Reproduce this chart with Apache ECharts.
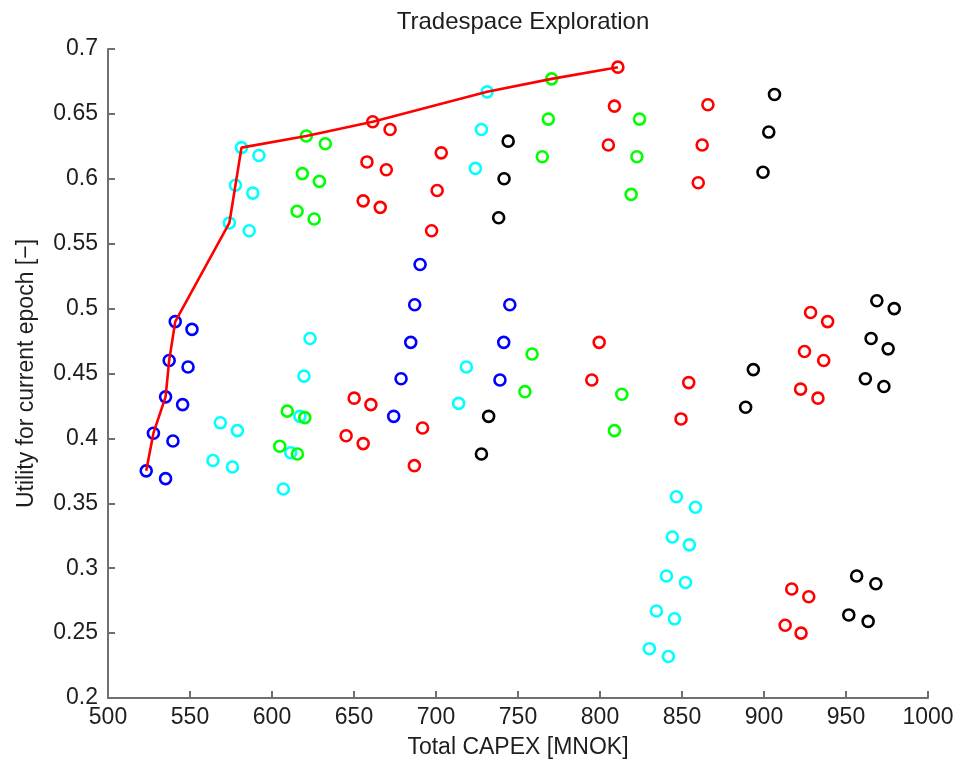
<!DOCTYPE html>
<html>
<head>
<meta charset="utf-8">
<title>Tradespace Exploration</title>
<script src="https://cdn.jsdelivr.net/npm/echarts@6/dist/echarts.min.js"></script>
<style>
  html, body { margin: 0; padding: 0; background: #ffffff; }
  #chart { width: 959px; height: 767px; }
</style>
</head>
<body>
<div id="chart"></div>
<script>
// Design alternatives: [Total CAPEX (MNOK), utility]
const blueDesigns = [
  [523.3, 0.375], [535.1, 0.369], [527.7, 0.404], [539.6, 0.398], [535.1, 0.432],
  [545.5, 0.426], [537.3, 0.460], [548.8, 0.455], [541.0, 0.490], [551.2, 0.484],
  [674.2, 0.417], [678.7, 0.446], [684.6, 0.474], [687.0, 0.503], [690.3, 0.534],
  [739.0, 0.445], [741.3, 0.474], [745.0, 0.503]
];
const cyanDesigns = [
  [564.0, 0.383], [575.9, 0.378], [568.5, 0.412], [578.9, 0.406], [606.9, 0.361],
  [611.4, 0.389], [617.0, 0.417], [619.5, 0.448], [623.2, 0.477],
  [574.0, 0.566], [586.1, 0.560], [577.7, 0.595], [588.3, 0.589], [581.4, 0.624], [592.0, 0.618],
  [713.8, 0.427], [718.5, 0.455], [724.0, 0.608], [727.7, 0.638], [731.2, 0.667],
  [830.1, 0.238], [841.7, 0.232], [834.4, 0.267], [845.4, 0.261], [840.5, 0.294],
  [852.1, 0.289], [844.1, 0.324], [854.5, 0.318], [846.6, 0.355], [858.2, 0.347]
];
const greenDesigns = [
  [604.7, 0.394], [615.5, 0.388], [609.3, 0.421], [620.0, 0.416],
  [615.3, 0.575], [625.7, 0.569], [618.5, 0.604], [628.9, 0.598], [620.9, 0.633], [632.5, 0.627],
  [754.2, 0.436], [758.6, 0.465], [764.8, 0.617], [768.5, 0.646], [770.5, 0.677],
  [808.8, 0.406], [813.3, 0.434], [819.0, 0.588], [822.5, 0.617], [824.1, 0.646]
];
const redDesigns = [
  [645.2, 0.402], [655.6, 0.396], [650.1, 0.431], [660.3, 0.426],
  [655.6, 0.583], [666.0, 0.578], [657.9, 0.613], [669.7, 0.607], [661.4, 0.644], [672.0, 0.638],
  [686.8, 0.379], [691.8, 0.408], [697.3, 0.560], [700.7, 0.591], [703.2, 0.620],
  [795.0, 0.445], [799.5, 0.474], [805.1, 0.626], [808.8, 0.656], [810.9, 0.686],
  [849.4, 0.415], [854.1, 0.443], [859.9, 0.597], [862.3, 0.626], [865.8, 0.657],
  [912.9, 0.256], [922.6, 0.250], [916.9, 0.284], [927.3, 0.278],
  [922.3, 0.438], [932.9, 0.431], [924.7, 0.467], [936.4, 0.460], [928.4, 0.497], [938.8, 0.490]
];
const blackDesigns = [
  [727.7, 0.388], [732.1, 0.417], [738.2, 0.570], [741.5, 0.600], [744.0, 0.629],
  [888.8, 0.424], [893.5, 0.453], [899.4, 0.605], [902.9, 0.636], [906.4, 0.665],
  [951.7, 0.264], [963.5, 0.259], [956.5, 0.294], [968.2, 0.288],
  [961.8, 0.446], [973.1, 0.440], [965.3, 0.477], [975.7, 0.469], [968.8, 0.506], [979.4, 0.500]
];
// Pareto front through the non-dominated designs
const paretoFront = [
  [523.3, 0.375], [527.7, 0.404], [535.1, 0.432], [537.3, 0.460], [541.0, 0.490],
  [574.0, 0.566], [577.7, 0.595], [581.4, 0.624], [620.9, 0.633], [661.4, 0.644],
  [731.2, 0.667], [770.5, 0.677], [810.9, 0.686]
];

const xTicks = [500, 550, 600, 650, 700, 750, 800, 850, 900, 950, 1000];
const yTicks = [0.2, 0.25, 0.3, 0.35, 0.4, 0.45, 0.5, 0.55, 0.6, 0.65, 0.7];

const FONT = 'Liberation Sans, Arial, Helvetica, sans-serif';
const AXIS_GRAY = '#707070';
const TEXT = '#1e1e1e';

function ringSeries(data, color) {
  return {
    type: 'scatter',
    data: data,
    symbol: 'circle',
    symbolSize: 11,
    itemStyle: { color: 'rgba(0,0,0,0)', borderColor: color, borderWidth: 2.6, opacity: 1 },
    emphasis: { disabled: true },
    z: 2
  };
}

function axisCommon(ticks, nameText) {
  return {
    type: 'value',
    min: ticks[0],
    max: ticks[ticks.length - 1],
    interval: +(ticks[1] - ticks[0]).toFixed(6),
    name: nameText,
    nameLocation: 'middle',
    nameTextStyle: { fontFamily: FONT, fontSize: 23, color: TEXT },
    axisLine: { show: true, lineStyle: { color: AXIS_GRAY, width: 2 } },
    axisTick: { show: true, inside: true, length: 7, lineStyle: { color: AXIS_GRAY, width: 2 } },
    splitLine: { show: false },
    axisLabel: {
      fontFamily: FONT, fontSize: 23, color: TEXT,
      formatter: v => String(+v.toFixed(2))
    }
  };
}

const chart = echarts.init(document.getElementById('chart'), null, { renderer: 'canvas' });

const xAxis = axisCommon(xTicks, 'Total CAPEX [MNOK]');
xAxis.nameGap = 38;
xAxis.axisLabel.margin = 8;
const yAxis = axisCommon(yTicks, 'Utility for current epoch [\u2212]');
yAxis.nameGap = 70;
yAxis.axisLabel.margin = 10;

chart.setOption({
  backgroundColor: '#ffffff',
  animation: false,
  title: {
    text: 'Tradespace Exploration',
    left: 518,
    textAlign: 'center',
    top: 5,
    textStyle: { fontFamily: FONT, fontSize: 24, fontWeight: 'normal', color: TEXT }
  },
  grid: { left: 108, right: 31, top: 49, bottom: 69, containLabel: false },
  xAxis: xAxis,
  yAxis: yAxis,
  series: [
    ringSeries(blueDesigns, '#0000ff'),
    ringSeries(cyanDesigns, '#00ffff'),
    ringSeries(greenDesigns, '#00ff00'),
    ringSeries(redDesigns, '#ff0000'),
    ringSeries(blackDesigns, '#000000'),
    {
      type: 'line',
      data: paretoFront,
      symbol: 'none',
      lineStyle: { color: '#ff0000', width: 2.6 },
      emphasis: { disabled: true },
      z: 3
    }
  ]
});
</script>
</body>
</html>
